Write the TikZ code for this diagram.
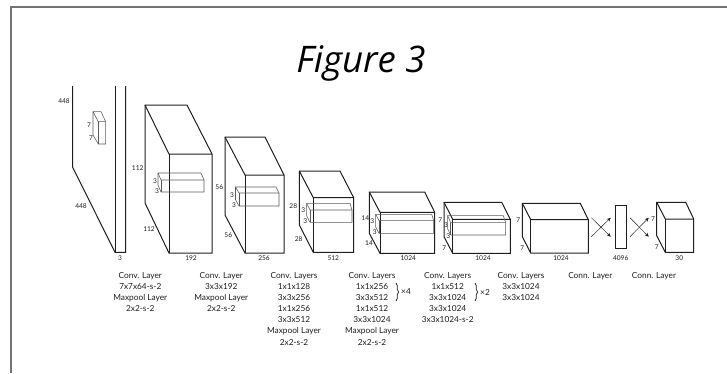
\documentclass[tikz,border=0pt]{standalone}
\usepackage{fontspec}
\setmainfont{Lato}
\newfontfamily\titlefont{Open Sans}
\usepackage{xcolor}
\usetikzlibrary{arrows.meta, decorations.pathreplacing}
\definecolor{cFrame}{RGB}{115,115,115}
\definecolor{cInk}{RGB}{30,30,30}
\definecolor{cThin}{RGB}{90,90,90}
\tikzset{
	framerule/.style={cFrame, line width=1.9pt},
	figtitle/.style={font=\titlefont\itshape\fontsize{36.6}{40}\selectfont, anchor=base, inner sep=0pt, text=black},
	cubeline/.style={cInk, line width=1pt, line join=miter},
	kernelline/.style={cThin, line width=0.55pt, line join=miter},
	dimlabel/.style={font=\fontsize{6.6}{7}\selectfont, inner sep=0pt, text=cInk},
	layertext/.style={font=\fontsize{8.3}{11.15}\selectfont, anchor=north, align=center, inner sep=0pt, text=cInk},
	connbar/.style={rectangle, draw=cInk, line width=1pt, inner sep=0pt, minimum width=10.7pt, minimum height=43.3pt},
	crossarrow/.style={-{Stealth[length=4pt, width=3.6pt]}, cInk, line width=0.45pt},
	repbrace/.style={decorate, decoration={brace, amplitude=2.6pt}, cInk, line width=0.7pt},
}
\begin{document}
\begin{tikzpicture}[x=1pt, y=-1pt]
	\useasboundingbox (0,0) rectangle (727,373);
	\draw[framerule] (11,373) -- (11,7.3) -- (727,7.3);
	\node[figtitle] (title) at (361,72.7) {Figure 3};
	% input image
	\draw[cubeline] (72.7,86) -- (72.7,167.3) -- (115,252.3) -- (125.7,252.3) -- (125.7,86);
	\draw[cubeline] (115,86) -- (115,252.3);
	% cubes: back x, back y, top right x, front x, front y, right x, bottom y, lower back y
	\foreach \st/\bx/\by/\tx/\fx/\fy/\rx/\ry/\ly in {
		cubeline/145/105/187/169/154/212/253/203,
		cubeline/225/137/265/245/175/284/253/215,
		cubeline/299.3/171/340/313.3/197.7/353.7/252.3/225,
		cubeline/369.3/192/424.7/380/212.3/434.7/253.3/233.3,
		cubeline/444/202.3/501.7/452.7/219.3/510.3/253.3/236.7,
		cubeline/522.3/203.3/580.3/530.7/219.7/588.3/253/236.7,
		cubeline/656.7/202.3/685.7/665.3/219/693.7/252.3/235.7,
		kernelline/93/111.7/101/98.3/121.7/105.7/144/135,
		kernelline/158/173/201/161/180/204/192/185,
		kernelline/235.5/187/276/239/193/279/206/199.5,
		kernelline/306.7/203.3/350/310/210/352/222.3/216,
		kernelline/375.7/214.3/431.7/379/220.7/433.7/233.3/227,
		kernelline/447.7/215.7/503.3/450.7/222.7/505.7/235/229} {
		\draw[\st] (\bx,\by) -- (\tx,\by) -- (\rx,\fy) -- (\rx,\ry) -- (\fx,\ry) -- (\bx,\ly) -- cycle;
		\draw[\st] (\bx,\by) -- (\fx,\fy) -- (\rx,\fy);
		\draw[\st] (\fx,\fy) -- (\fx,\ry);
	}
	% fully connected part
	\node[connbar] (fcbar) at (620.7,227.3) {};
	\coordinate (inA) at (591.3,217.7);
	\coordinate (inB) at (591.3,236.7);
	\coordinate (barA) at (610.7,217.7);
	\coordinate (barB) at (610.7,236.7);
	\coordinate (outA) at (630,217.7);
	\coordinate (outB) at (630,236.7);
	\coordinate (endA) at (648.7,217.7);
	\coordinate (endB) at (648.7,236.7);
	\draw[crossarrow] (inA) -- (barB);
	\draw[crossarrow] (inB) -- (barA);
	\draw[crossarrow] (outA) -- (endB);
	\draw[crossarrow] (outB) -- (endA);
	% sizes
	\foreach \px/\py/\txt [count=\i] in {
		64/101/448, 81/206/448, 89/125/7, 91/138/7, 120/257.7/3,
		137.7/168.3/112, 149/229.3/112, 155/180.7/3, 157/191/3, 191/257.7/192,
		219.3/186.7/56, 228.3/234.7/56, 232/194.7/3, 234/205/3, 264/257.7/256,
		293.3/206/28, 298.7/239.3/28, 303.3/210.3/3, 305.3/221/3, 333.3/257.7/512,
		365.3/218.3/14, 369/243.3/14, 372.3/221/3, 374.7/231.7/3, 408.3/258.3/1024,
		440.3/220.3/7, 444.3/248.3/7, 446/224.7/3, 448.3/235.7/3, 483/258.3/1024,
		518.3/220.3/7, 522.3/248.3/7, 561/258.3/1024, 620.7/258/4096,
		653/219.3/7, 656.7/247.3/7, 679.3/257.7/30} {
		\node[dimlabel] (size\i) at (\px,\py) {\txt};
	}
	% layer captions
	\node[layertext] (capA) at (140.3,272) {Conv. Layer\\7x7x64-s-2\\Maxpool Layer\\2x2-s-2};
	\node[layertext] (capB) at (221.3,272) {Conv. Layer\\3x3x192\\Maxpool Layer\\2x2-s-2};
	\node[layertext] (capC) at (294,272) {Conv. Layers\\1x1x128\\3x3x256\\1x1x256\\3x3x512\\Maxpool Layer\\2x2-s-2};
	\node[layertext] (capD) at (372,272) {Conv. Layers\\1x1x256\\3x3x512\\1x1x512\\3x3x1024\\Maxpool Layer\\2x2-s-2};
	\node[layertext] (capE) at (447.7,272) {Conv. Layers\\1x1x512\\3x3x1024\\3x3x1024\\3x3x1024-s-2};
	\node[layertext] (capF) at (521,272) {Conv. Layers\\3x3x1024\\3x3x1024};
	\node[layertext] (capG) at (590.3,272) {Conn. Layer};
	\node[layertext] (capH) at (654,272) {Conn. Layer};
	% repeat marks
	\coordinate (repDa) at (396,283);
	\coordinate (repDb) at (396,301);
	\coordinate (repEa) at (475,283);
	\coordinate (repEb) at (475,301);
	\draw[repbrace] (repDa) -- (repDb);
	\draw[repbrace] (repEa) -- (repEb);
	\node[dimlabel, font=\fontsize{8.3}{9}\selectfont] (repD) at (406,292) {×4};
	\node[dimlabel, font=\fontsize{8.3}{9}\selectfont] (repE) at (485,292) {×2};
\end{tikzpicture}
\end{document}
